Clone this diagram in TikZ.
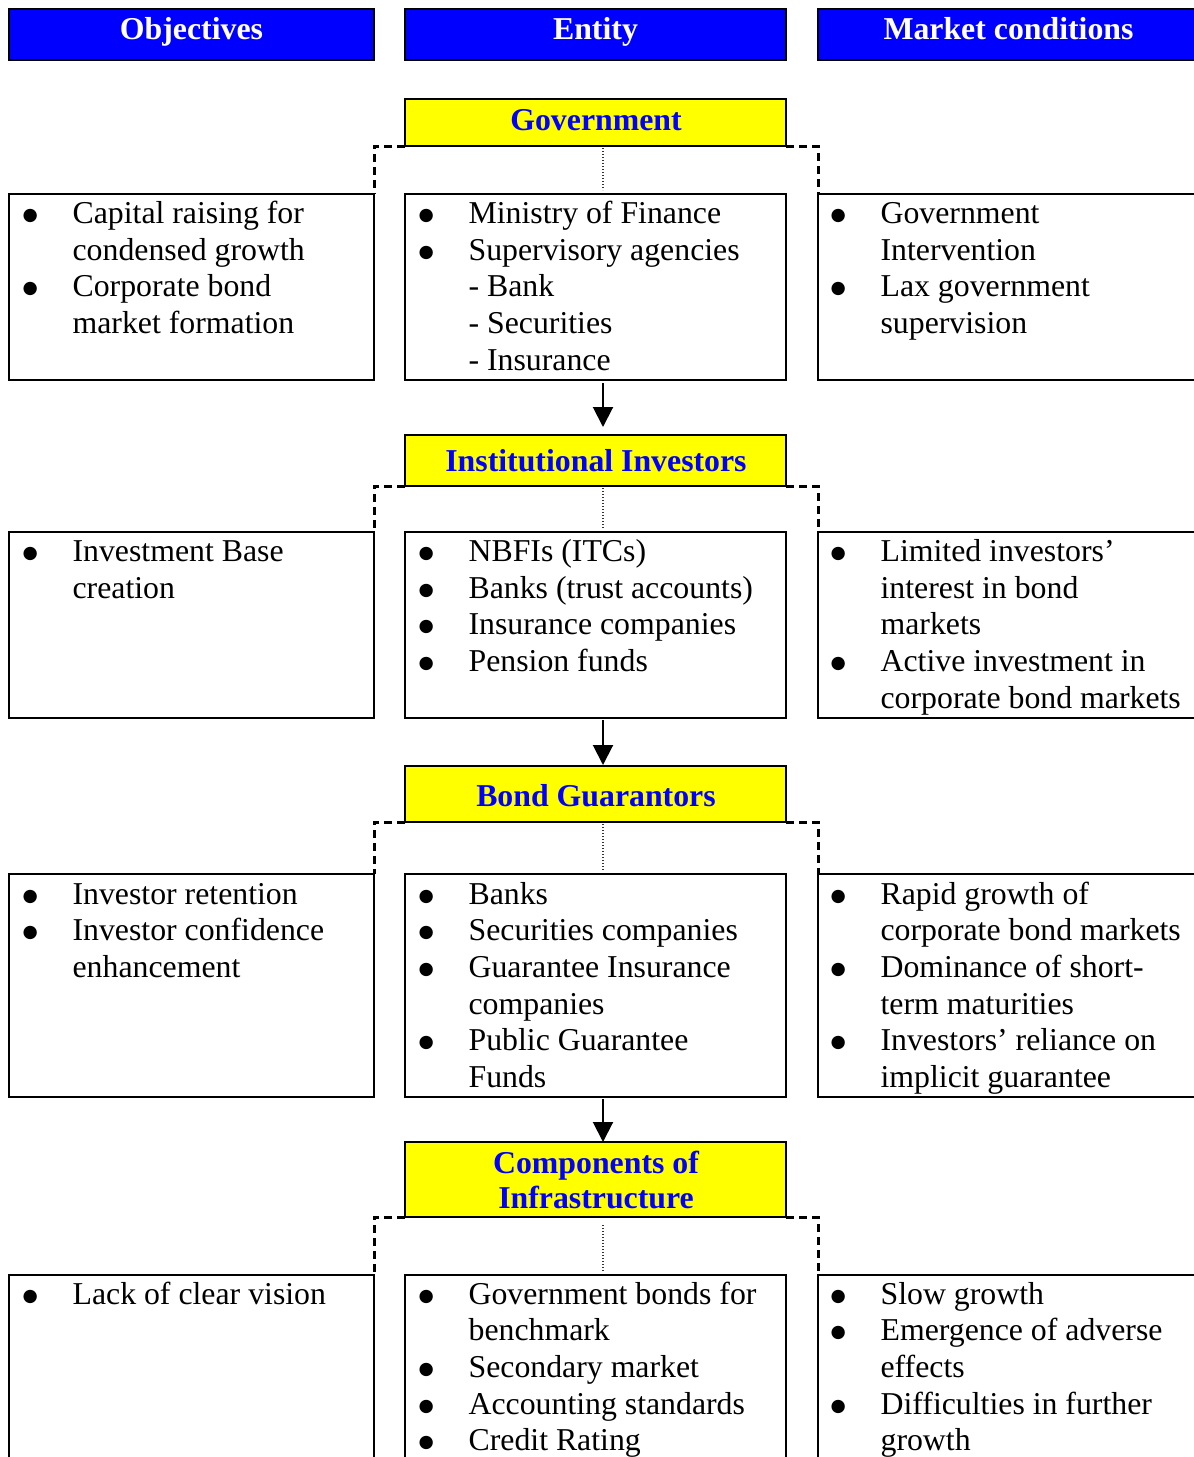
\documentclass[tikz,border=0pt]{standalone}
\usepackage{fontspec}
\setmainfont{Liberation Serif}
\newfontfamily\bulletfont{DejaVu Sans}
\usetikzlibrary{arrows.meta}
\definecolor{hblue}{RGB}{0,0,255}
\definecolor{hyellow}{RGB}{255,255,0}
\newcommand\blist[1]{\begin{tabular}[t]{@{}p{48pt}@{}l@{}}#1\end{tabular}}
\newcommand\bu{\hspace*{-2pt}\raisebox{3pt}{\bulletfont\fontsize{17.5}{17.5}\selectfont ●}}
\begin{document}
\begin{tikzpicture}[x=1pt,y=-1pt,
  box/.style={draw=black,line width=2pt,anchor=north west,inner sep=0pt,outer sep=0pt,minimum height=#1},
  hdr/.style={draw=black,line width=2.5pt,anchor=north west,inner sep=0pt,outer sep=0pt,fill=hblue,minimum height=51pt},
  ttl/.style={box=#1,fill=hyellow,minimum width=381pt},
  htext/.style={text=white,font=\fontsize{31.8}{36}\selectfont\bfseries,anchor=base,inner sep=0pt},
  ttext/.style={text=hblue,font=\fontsize{31.8}{35}\selectfont\bfseries,anchor=base,inner sep=0pt,align=center},
  body/.style={anchor=base west,inner sep=0pt,font=\fontsize{31.8}{36.7}\selectfont},
  dconn/.style={line width=3pt,dash pattern=on 8pt off 5pt},
  dotc/.style={line width=1.2pt,dash pattern=on 1.2pt off 1.8pt,black!80},
  arr/.style={line width=2pt,-{Triangle[length=20pt,width=20pt]}}
]
\useasboundingbox (0,0) rectangle (1194,1457);
\clip (0,0) rectangle (1194,1457);

% headers
\node[hdr,minimum width=365pt] (hO) at (9,9) {};
\node[hdr,minimum width=381pt] (hE) at (405,9) {};
\node[hdr,minimum width=381pt] (hM) at (818,9) {};
\node[htext] (hOt) at (191.5,39.5) {Objectives};
\node[htext] (hEt) at (595.5,39.5) {Entity};
\node[htext] (hMt) at (1008.5,39.5) {Market conditions};

% yellow entity titles
\node[ttl=47pt] (g1) at (405,99) {};
\node[ttl=51pt] (g2) at (405,435) {};
\node[ttl=56pt] (g3) at (405,766) {};
\node[ttl=75pt] (g4) at (405,1142) {};
\node[ttext] (g1t) at (596,130) {Government};
\node[ttext] (g2t) at (596,471) {Institutional Investors};
\node[ttext] (g3t) at (596,806) {Bond Guarantors};
\node[ttext,anchor=center] (g4t) at (596,1180) {Components of\\Infrastructure};

% row boxes
\node[box=186pt,minimum width=365pt] (o1) at (9,194) {};
\node[box=186pt,minimum width=381pt] (e1) at (405,194) {};
\node[box=186pt,minimum width=381pt] (m1) at (818,194) {};
\node[box=186pt,minimum width=365pt] (o2) at (9,532) {};
\node[box=186pt,minimum width=381pt] (e2) at (405,532) {};
\node[box=186pt,minimum width=381pt] (m2) at (818,532) {};
\node[box=223pt,minimum width=365pt] (o3) at (9,874) {};
\node[box=223pt,minimum width=381pt] (e3) at (405,874) {};
\node[box=223pt,minimum width=381pt] (m3) at (818,874) {};
\node[box=200pt,minimum width=365pt] (o4) at (9,1275) {};
\node[box=200pt,minimum width=381pt] (e4) at (405,1275) {};
\node[box=200pt,minimum width=381pt] (m4) at (818,1275) {};

% row texts
\node[body] (o1t) at (24.4,223.5) {\blist{\bu & Capital raising for\\ & condensed growth\\ \bu & Corporate bond\\ & market formation}};
\node[body] (e1t) at (420.4,223.5) {\blist{\bu & Ministry of Finance\\ \bu & Supervisory agencies\\ & - Bank\\ & - Securities\\ & - Insurance}};
\node[body] (m1t) at (832.4,223.5) {\blist{\bu & Government\\ & Intervention\\ \bu & Lax government\\ & supervision}};

\node[body] (o2t) at (24.4,561.5) {\blist{\bu & Investment Base\\ & creation}};
\node[body] (e2t) at (420.4,561.5) {\blist{\bu & NBFIs (ITCs)\\ \bu & Banks (trust accounts)\\ \bu & Insurance companies\\ \bu & Pension funds}};
\node[body] (m2t) at (832.4,561.5) {\blist{\bu & Limited investors’\\ & interest in bond\\ & markets\\ \bu & Active investment in\\ & corporate bond markets}};

\node[body] (o3t) at (24.4,904) {\blist{\bu & Investor retention\\ \bu & Investor confidence\\ & enhancement}};
\node[body] (e3t) at (420.4,904) {\blist{\bu & Banks\\ \bu & Securities companies\\ \bu & Guarantee Insurance\\ & companies\\ \bu & Public Guarantee\\ & Funds}};
\node[body] (m3t) at (832.4,904) {\blist{\bu & Rapid growth of\\ & corporate bond markets\\ \bu & Dominance of short-\\ & term maturities\\ \bu & Investors’ reliance on\\ & implicit guarantee}};

\node[body] (o4t) at (24.4,1304) {\blist{\bu & Lack of clear vision}};
\node[body] (e4t) at (420.4,1304) {\blist{\bu & Government bonds for\\ & benchmark\\ \bu & Secondary market\\ \bu & Accounting standards\\ \bu & Credit Rating}};
\node[body] (m4t) at (832.4,1304) {\blist{\bu & Slow growth\\ \bu & Emergence of adverse\\ & effects\\ \bu & Difficulties in further\\ & growth}};

% dashed connectors from titles to side boxes
\foreach \g/\o/\m in {g1/o1/m1,g2/o2/m2,g3/o3/m3,g4/o4/m4}{
  \draw[dconn] (\g.south west) -| (\o.north east);
  \draw[dconn] (\g.south east) -| (\m.north west);
}
% dotted connectors from titles to entity boxes
\draw[dotc,shorten <=2pt,shorten >=4pt] ([xshift=7.5pt]g1.south) -- ([xshift=7.5pt]e1.north);
\draw[dotc,shorten <=2pt,shorten >=4pt] ([xshift=7.5pt]g2.south) -- ([xshift=7.5pt]e2.north);
\draw[dotc,shorten <=2pt,shorten >=4pt] ([xshift=7.5pt]g3.south) -- ([xshift=7.5pt]e3.north);
\draw[dotc,shorten <=8pt,shorten >=4pt] ([xshift=7.5pt]g4.south) -- ([xshift=7.5pt]e4.north);

% arrows between entity boxes and next titles
\draw[arr,shorten <=3pt,shorten >=8pt] ([xshift=7.5pt]e1.south) -- ([xshift=7.5pt]g2.north);
\draw[arr,shorten <=2pt,shorten >=1pt] ([xshift=7.5pt]e2.south) -- ([xshift=7.5pt]g3.north);
\draw[arr,shorten <=2pt,shorten >=0pt] ([xshift=7.5pt]e3.south) -- ([xshift=7.5pt]g4.north);
\end{tikzpicture}
\end{document}
